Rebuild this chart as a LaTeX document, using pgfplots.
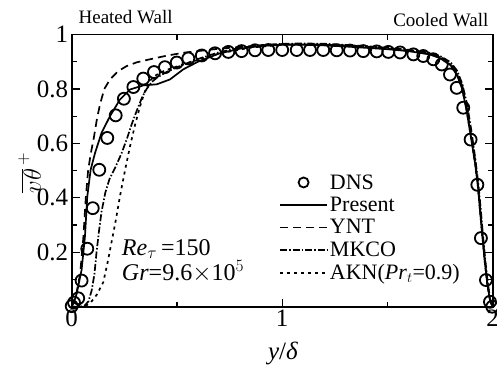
\documentclass[border=0pt]{standalone}
\usepackage{pgfplots}
\pgfplotsset{compat=1.18}
\usepackage{fontspec}
\setmainfont{Liberation Serif}
\pgfplotsset{
  linelegend/.style={legend image code/.code={\draw[##1] (0pt,0pt) -- (47pt,0pt);}},
  marklegend/.style={legend image code/.code={\draw[##1, mark size=5pt] plot coordinates {(23.5pt,0pt)};}},
}
\begin{document}
\begin{tikzpicture}
\begin{axis}[
  scale only axis, width=421pt, height=272.2pt,
  xmin=0, xmax=2, ymin=0, ymax=1,
  clip=false,
  xtick={0,1,2}, minor xtick={0.5,1.5},
  ytick={0.2,0.4,0.6,0.8,1}, minor ytick={0.1,0.3,0.5,0.7,0.9},
  major tick length=8pt, minor tick length=5pt,
  tick style={line width=1.2pt, black},
  axis line style={line width=1.8pt},
  tick label style={font=\fontsize{25}{25}\selectfont},
  /pgf/number format/assume math mode=true,
  xlabel={\textit{y}/\textit{δ}},
  ylabel={$\overline{v\theta}^{\,+}$},
  x label style={at={(axis description cs:0.502,-0.170)}, anchor=center, font=\fontsize{25}{25}\selectfont},
  y label style={at={(axis description cs:-0.100,0.491)}, anchor=center, font=\fontsize{25}{25}\selectfont},
  legend style={at={(axis cs:0.985,0.494)}, anchor=north west, draw=none, fill=none, inner sep=0pt,
    font=\fontsize{22}{22}\selectfont, row sep=2.5pt},
  legend cell align=left,
]
\addplot[black, only marks, mark=o, mark size=6pt, mark options={line width=1.8pt}, marklegend]
coordinates {
(0,0.002)(0.011,0.015)(0.031,0.031)(0.047,0.096)(0.074,0.213)(0.10,0.362)(0.131,0.503)
(0.169,0.62)(0.209,0.703)(0.248,0.764)(0.293,0.807)(0.34,0.838)(0.391,0.862)(0.443,0.88)
(0.499,0.897)(0.554,0.912)(0.618,0.923)(0.681,0.931)(0.744,0.936)(0.807,0.939)(0.871,0.942)
(0.934,0.943)(1.0,0.943)(1.069,0.943)(1.132,0.943)(1.195,0.943)(1.259,0.942)(1.322,0.941)
(1.385,0.939)(1.449,0.938)(1.504,0.936)(1.56,0.934)(1.623,0.927)(1.67,0.921)(1.718,0.909)
(1.758,0.89)(1.797,0.853)(1.829,0.804)(1.86,0.731)(1.895,0.614)(1.927,0.448)(1.944,0.252)
(1.968,0.098)(1.987,0.018)(1.998,0.0)
};
\addlegendentry{DNS}
\addplot[black, line width=1.7pt, solid, linelegend] coordinates {
(0,0)(0.012,0.02)(0.024,0.049)(0.047,0.135)(0.063,0.258)(0.074,0.405)(0.09,0.503)
(0.111,0.565)(0.142,0.639)(0.182,0.700)(0.229,0.761)(0.277,0.798)(0.34,0.813)(0.404,0.817)
(0.467,0.835)(0.53,0.872)(0.6,0.90)(0.7,0.93)(0.8,0.948)(0.9,0.958)(1.0,0.962)(1.1,0.962)
(1.2,0.96)(1.3,0.956)(1.4,0.951)(1.5,0.946)(1.6,0.939)(1.7,0.927)(1.75,0.913)(1.8,0.887)
(1.83,0.852)(1.855,0.80)(1.876,0.72)(1.895,0.63)(1.916,0.528)(1.93,0.44)(1.94,0.35)
(1.952,0.25)(1.963,0.16)(1.975,0.08)(1.988,0.02)(2,0)
};
\addlegendentry{Present}
\addplot[black, line width=1.7pt, dash pattern=on 8pt off 5pt, linelegend] coordinates {
(0,0)(0.02,0.04)(0.04,0.12)(0.055,0.25)(0.067,0.40)(0.078,0.50)(0.09,0.56)(0.105,0.62)
(0.12,0.69)(0.135,0.745)(0.155,0.80)(0.182,0.835)(0.22,0.865)(0.261,0.884)(0.31,0.898)
(0.372,0.909)(0.45,0.922)(0.53,0.933)(0.7,0.948)(0.85,0.957)(1.0,0.963)(1.15,0.964)
(1.3,0.96)(1.45,0.953)(1.6,0.942)(1.7,0.931)(1.75,0.918)(1.8,0.893)(1.83,0.86)(1.855,0.81)
(1.876,0.735)(1.895,0.645)(1.916,0.54)(1.93,0.45)(1.94,0.36)(1.952,0.26)(1.963,0.17)
(1.975,0.085)(1.988,0.022)(2,0)
};
\addlegendentry{YNT}
\addplot[black, line width=1.7pt, dash pattern=on 7pt off 2pt on 1.5pt off 2pt, linelegend] coordinates {
(0,0)(0.04,0)(0.06,0.003)(0.08,0.02)(0.095,0.06)(0.108,0.12)(0.118,0.20)(0.13,0.28)
(0.142,0.35)(0.16,0.42)(0.18,0.47)(0.206,0.51)(0.235,0.56)(0.261,0.614)(0.285,0.67)
(0.309,0.72)(0.335,0.77)(0.356,0.80)(0.38,0.825)(0.404,0.841)(0.45,0.862)(0.5,0.88)
(0.6,0.91)(0.7,0.935)(0.8,0.951)(0.9,0.961)(1.0,0.966)(1.1,0.967)(1.2,0.966)(1.3,0.962)
(1.4,0.957)(1.5,0.951)(1.6,0.944)(1.7,0.933)(1.75,0.921)(1.8,0.898)(1.83,0.868)
(1.855,0.82)(1.878,0.745)(1.898,0.65)(1.918,0.54)(1.932,0.45)(1.943,0.36)(1.954,0.26)
(1.965,0.17)(1.977,0.085)(1.989,0.022)(2,0)
};
\addlegendentry{MKCO}
\addplot[black, line width=1.7pt, dash pattern=on 3pt off 4pt, linelegend] coordinates {
(0,0)(0.06,0)(0.09,0.015)(0.12,0.045)(0.15,0.09)(0.17,0.16)(0.19,0.24)(0.21,0.32)
(0.229,0.405)(0.253,0.50)(0.277,0.589)(0.30,0.665)(0.325,0.737)(0.345,0.785)(0.364,0.823)
(0.39,0.845)(0.419,0.860)(0.47,0.875)(0.55,0.895)(0.7,0.93)(0.85,0.952)(1.0,0.962)
(1.15,0.963)(1.3,0.958)(1.45,0.951)(1.6,0.94)(1.7,0.928)(1.75,0.915)(1.8,0.889)
(1.83,0.855)(1.855,0.80)(1.876,0.722)(1.895,0.632)(1.916,0.53)(1.93,0.44)(1.94,0.35)
(1.952,0.25)(1.963,0.16)(1.975,0.08)(1.988,0.02)(2,0)
};
\addlegendentry{AKN(\textit{Pr}$_{t}$=0.9)}
\node[anchor=base west, align=left, inner sep=0pt, font=\fontsize{24}{25}\selectfont] at (axis cs:0.238,0.098) {\textit{Re}$_{\tau}$\,=150\\\textit{Gr}=9.6$\times$10$^{5}$};
\node[anchor=base west, font=\fontsize{19}{19}\selectfont] at (axis description cs:0.008,1.041) {Heated Wall};
\node[anchor=base east, font=\fontsize{19}{19}\selectfont] at (axis description cs:0.998,1.031) {Cooled Wall};
\end{axis}
\pgfresetboundingbox
\path (-71.7pt,-58.3pt) rectangle (425.3pt,306.7pt);
\end{tikzpicture}
\end{document}
